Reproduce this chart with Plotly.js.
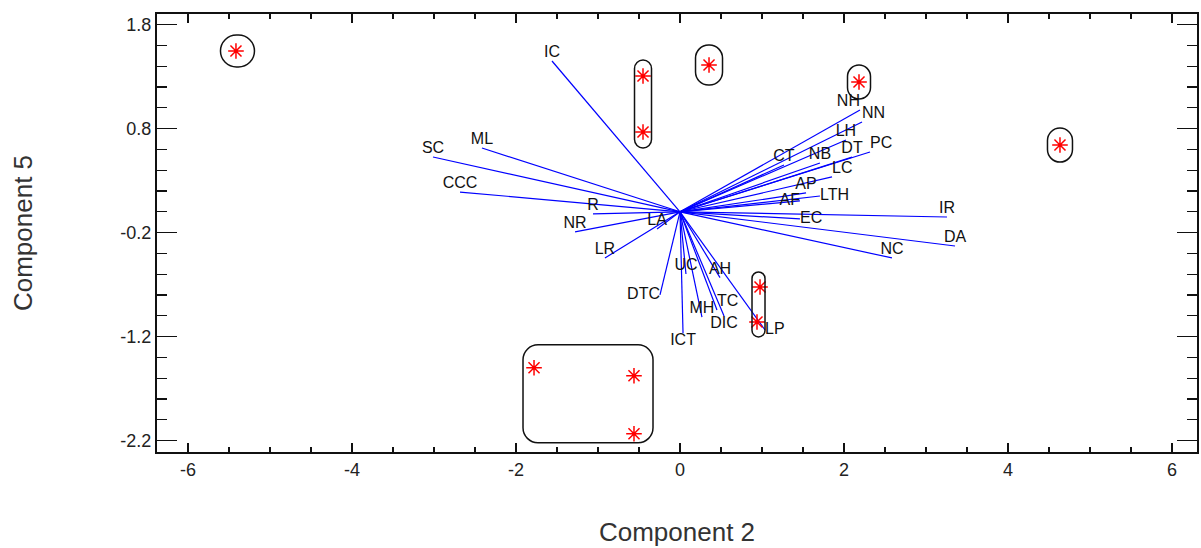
<!DOCTYPE html>
<html>
<head>
<meta charset="utf-8">
<script src="https://cdn.plot.ly/plotly-3.0.1.min.js"></script>
<style>html,body{margin:0;padding:0;background:#fff}#chart{width:1201px;height:548px}</style>
</head>
<body>
<div id="chart"></div>
<script>
// Observation scores (Component 2, Component 5)
const obsComp2 = [-5.415, -0.451, -0.451, 0.354, 2.183, 4.634, 0.976, 0.939, -1.78, -0.561, -0.561];
const obsComp5 = [1.546, 1.306, 0.767, 1.411, 1.248, 0.642, -0.723, -1.06, -1.50, -1.577, -2.135];

// Variable loadings (vector endpoints)
const varNames = ['IC','ML','SC','CCC','R','NR','LA','LR','DTC','UC','ICT','MH','TC','DIC','AH','LP',
                  'NC','DA','IR','EC','AF','LTH','AP','LC','PC','DT','NB','CT','LH','NH','NN'];
const varComp2 = [-1.561,-2.415,-3.012,-2.683,-1.061,-1.280,-0.280,-0.915,-0.244,0.073,0.037,0.268,0.451,0.537,0.488,1.037,
                  2.585,3.354,3.256,1.463,1.463,1.707,1.537,1.854,2.317,2.098,1.707,1.268,2.024,2.195,2.220];
const varComp5 = [1.450,0.613,0.527,0.190,-0.021,-0.194,-0.165,-0.444,-0.800,-0.598,-1.165,-1.012,-0.944,-1.002,-0.633,-1.137,
                  -0.444,-0.329,-0.050,-0.069,0.104,0.152,0.181,0.335,0.575,0.525,0.469,0.450,0.690,0.979,0.863];

// Tick labels
const xTickVals = [-6,-4,-2,0,2,4,6];
const xTickText = ['-6','-4','-2','0','2','4','6'];
const yTickVals = [1.8,0.8,-0.2,-1.2,-2.2];
const yTickText = ['1.8','0.8','-0.2','-1.2','-2.2'];

// Groups of observations that are encircled
const groups = [[0],[1,2],[3],[4],[5],[6,7],[8,9,10]];

// ---- styles ----
const labelPos = ['top center','top center','top center','top center','top center','top center','top center','top center',
  'middle left','top center','bottom center','top center','top right','bottom center','top center','middle right',
  'top center','top center','top center','middle right','middle left','middle right','top center','top right','top right',
  'top center','top center','top center','top center','top left','top right'];
const groupSize = [[34,32],[17,88],[27,40],[23,34],[25,34],[13,65],[130,98]];
const groupRadius = [16,8.5,13,11.5,12.5,6.5,15];
const groupShift = [[1.5,0],[0,0],[0,0],[0,0],[0,0],[0,0],[4,7]]; // pixels (right, up)

const FONT = 'Liberation Sans, Arial, sans-serif';

const lx = [], ly = [];
for (let i = 0; i < varNames.length; i++) {
  lx.push(0, varComp2[i], null);
  ly.push(0, varComp5[i], null);
}

function roundRect(w, h, r, dx, dy) {
  const x0 = -w/2 + dx, x1 = w/2 + dx, y0 = -h/2 + dy, y1 = h/2 + dy, k = 0.5523*r;
  const f = v => v.toFixed(2);
  return 'M' + f(x0+r) + ',' + f(y0) +
    ' L' + f(x1-r) + ',' + f(y0) +
    ' C' + f(x1-r+k) + ',' + f(y0) + ' ' + f(x1) + ',' + f(y0+r-k) + ' ' + f(x1) + ',' + f(y0+r) +
    ' L' + f(x1) + ',' + f(y1-r) +
    ' C' + f(x1) + ',' + f(y1-r+k) + ' ' + f(x1-r+k) + ',' + f(y1) + ' ' + f(x1-r) + ',' + f(y1) +
    ' L' + f(x0+r) + ',' + f(y1) +
    ' C' + f(x0+r-k) + ',' + f(y1) + ' ' + f(x0) + ',' + f(y1-r+k) + ' ' + f(x0) + ',' + f(y1-r) +
    ' L' + f(x0) + ',' + f(y0+r) +
    ' C' + f(x0) + ',' + f(y0+r-k) + ' ' + f(x0+r-k) + ',' + f(y0) + ' ' + f(x0+r) + ',' + f(y0) + ' Z';
}

const shapes = groups.map((g, gi) => {
  const xs = g.map(i => obsComp2[i]), ys = g.map(i => obsComp5[i]);
  const cx = (Math.min(...xs) + Math.max(...xs)) / 2;
  const cy = (Math.min(...ys) + Math.max(...ys)) / 2;
  return {
    type: 'path', xref: 'x', yref: 'y', xsizemode: 'pixel', ysizemode: 'pixel',
    xanchor: cx, yanchor: cy,
    path: roundRect(groupSize[gi][0], groupSize[gi][1], groupRadius[gi], groupShift[gi][0], groupShift[gi][1]),
    line: {color: '#111', width: 1.5}, layer: 'above'
  };
});

const traces = [
  {x: lx, y: ly, mode: 'lines', type: 'scatter', line: {color: '#0000ff', width: 1.2}, hoverinfo: 'skip', showlegend: false},
  {x: varComp2, y: varComp5, mode: 'text', type: 'scatter', text: varNames, textposition: labelPos,
   textfont: {family: FONT, size: 16, color: '#111'}, showlegend: false},
  {x: obsComp2, y: obsComp5, mode: 'markers', type: 'scatter', showlegend: false,
   marker: {symbol: 'asterisk-open', size: 13, color: '#ff0000', line: {color: '#ff0000', width: 1.5}}}
];

const axBase = {
  showline: true, linecolor: '#111', linewidth: 2, mirror: 'allticks', showgrid: false, zeroline: false,
  ticks: 'inside', tickcolor: '#111', tickwidth: 1.5, tickmode: 'array',
  tickfont: {family: FONT, size: 18, color: '#222'}
};

const layout = {
  width: 1201, height: 548,
  margin: {l: 157, r: 4, t: 14, b: 96},
  paper_bgcolor: '#fff', plot_bgcolor: '#fff',
  showlegend: false,
  xaxis: Object.assign({}, axBase, {
    range: [-6.378, 6.305], tickvals: xTickVals, ticktext: xTickText, ticklen: 9,
    minor: {tickmode: 'linear', tick0: 0, dtick: 0.5, ticklen: 5, ticks: 'inside', tickcolor: '#111', tickwidth: 1.2},
    title: {text: 'Component 2', font: {family: FONT, size: 26, color: '#333'}, standoff: 44}
  }),
  yaxis: Object.assign({}, axBase, {
    range: [-2.31, 1.902], tickvals: yTickVals, ticktext: yTickText, ticklen: 20,
    minor: {tickmode: 'linear', tick0: 0, dtick: 0.2, ticklen: 10, ticks: 'inside', tickcolor: '#111', tickwidth: 1.2},
    title: {text: 'Component 5', font: {family: FONT, size: 26, color: '#333'}, standoff: 80}
  }),
  shapes: shapes
};

Plotly.newPlot('chart', traces, layout, {displayModeBar: false, staticPlot: true});
</script>
</body>
</html>
